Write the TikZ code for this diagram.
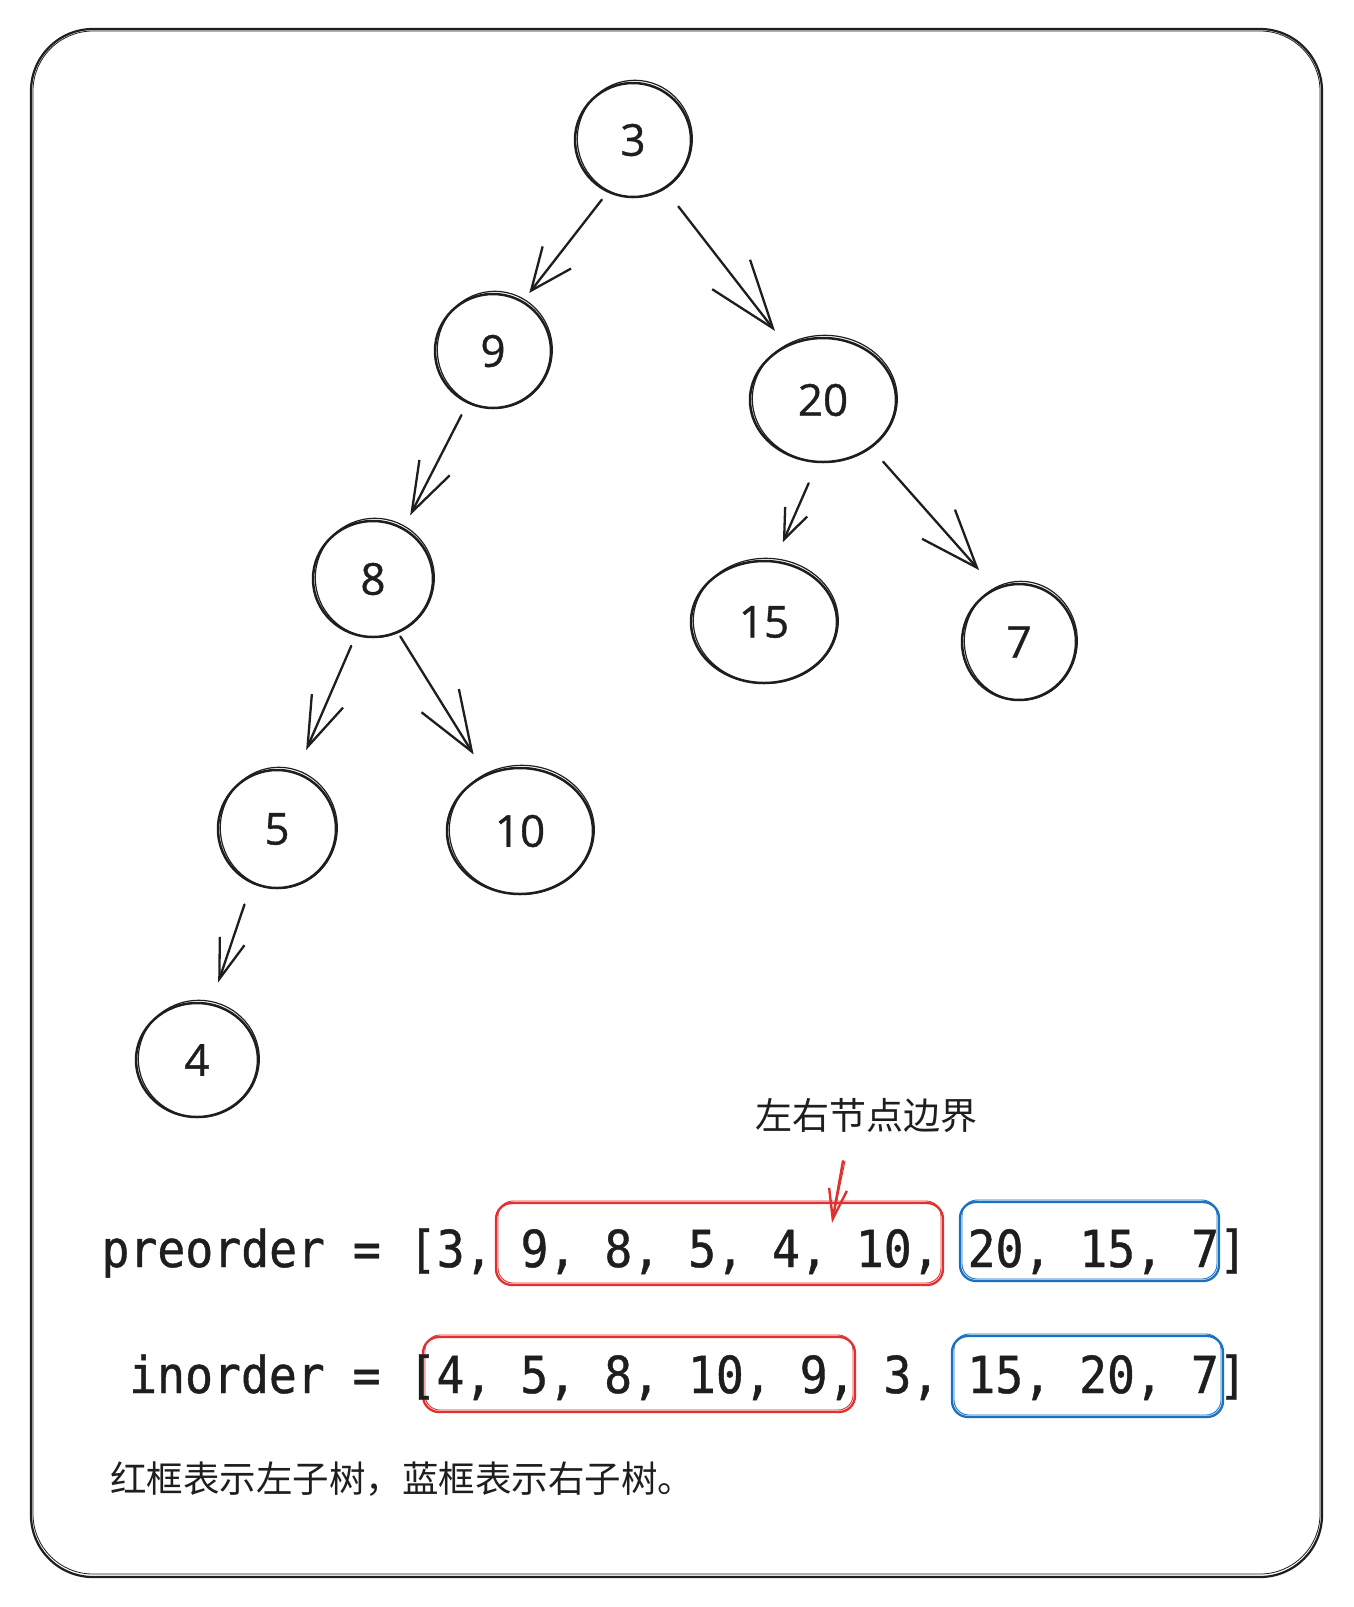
\documentclass[tikz,border=0pt]{standalone}
\usepackage{fontspec}
\usetikzlibrary{arrows.meta,shapes.geometric,calc}
\newfontfamily\cjkf{Noto Sans CJK SC}
\newfontfamily\monof[FakeStretch=0.91,FakeBold=0.8]{DejaVu Sans Mono}
\newfontfamily\handf[FakeBold=0.8]{Open Sans}
\definecolor{ink}{HTML}{1E1E1E}
\definecolor{exred}{HTML}{E03131}
\definecolor{exblue}{HTML}{1971C2}
\newcommand\mytreenode[6]{%
  \node[treenode, minimum width=#4*2, minimum height=#5*2] (#1) at (#2,#3) {#6};
  \draw[ink, line width=1.2pt] (#2+1.8,#3-1.2) ellipse [x radius=#4-0.5, y radius=#5+1.5];
}
\begin{document}
\frenchspacing
\begin{tikzpicture}[x=1pt,y=-1pt,
  treenode/.style={ellipse, draw=ink, line width=2.5pt, inner sep=0pt,
    font=\handf\fontsize{44}{44}\selectfont, text=ink},
  edge/.style={draw=ink, line width=2.3pt, line cap=round, line join=round},
  redbox/.style={rectangle, draw=exred, line width=2.3pt, rounded corners=16pt, inner sep=0pt},
  bluebox/.style={rectangle, draw=exblue, line width=2.3pt, rounded corners=16pt, inner sep=0pt},
  codetext/.style={anchor=base west, inner sep=0pt, text=ink, font=\monof\fontsize{51}{51}\selectfont},
  cjktext/.style={inner sep=0pt, text=ink}
]
\useasboundingbox (0,0) rectangle (1353,1607);
\fill[white] (0,0) rectangle (1353,1607);

% outer frame
\draw[ink, line width=2.2pt, rounded corners=62pt] (31,29) rectangle (1322,1577);
\draw[ink, line width=0.8pt, rounded corners=60pt] (33,31) rectangle (1320,1574);

% tree nodes
\mytreenode{n3}{633}{140}{58}{57}{3}
\mytreenode{n9}{493}{351}{58}{57}{9}
\mytreenode{n20}{823}{400}{73}{62}{20}
\mytreenode{n8}{373}{579}{60}{58}{8}
\mytreenode{n15}{764}{622}{73}{61}{15}
\mytreenode{n7}{1019}{642}{57}{58}{7}
\mytreenode{n5}{277}{829}{59}{59}{5}
\mytreenode{n10}{520}{831}{73}{63}{10}
\mytreenode{n4}{197}{1060}{61}{57}{4}

% edges
\draw[edge, -{Straight Barb[length=42pt,width=36pt]}, shorten <=9pt, shorten >=10pt] (n3.244) -- (n9.59);
\draw[edge, -{Straight Barb[length=68pt,width=48pt]}, shorten <=22pt, shorten >=18pt] (n3.303) -- (n20.124);
\draw[edge, -{Straight Barb[length=50pt,width=34pt]}, shorten <=13pt, shorten >=14pt] (n9.244) -- (n8.59);
\draw[edge, -{Straight Barb[length=30pt,width=24pt]}, shorten <=22pt, shorten >=20pt] (n20.265) -- (n15.80);
\draw[edge, -{Straight Barb[length=58pt,width=44pt]}, shorten <=18pt, shorten >=24pt] (n20.315) -- (n7.114);
\draw[edge, -{Straight Barb[length=50pt,width=34pt]}, shorten <=11pt, shorten >=24pt] (n8.253) -- (n5.71);
\draw[edge, -{Straight Barb[length=60pt,width=44pt]}, shorten <=4pt, shorten >=23pt] (n8.295) -- (n10.121);
\draw[edge, -{Straight Barb[length=40pt,width=26pt]}, shorten <=22pt, shorten >=22pt] (n5.245) -- (n4.76);

% label and pointer
\node[cjktext, font=\cjkf\fontsize{37}{37}\selectfont] (lbl) at (866,1116) {左右节点边界};
\coordinate (ra) at (843,1161);
\coordinate (rb) at (832,1223);
\draw[draw=exred, line width=2.4pt, line cap=round, -{Straight Barb[length=30pt,width=18pt]}] (ra) -- (rb);
\draw[draw=exred, line width=1pt, line cap=round] ($(ra)+(2,0)$) -- ($(rb)+(1,-4)$);

% boxes
\node[redbox, minimum width=447pt, minimum height=82pt] (rpre) at (719.5,1244) {};
\draw[exred, line width=0.9pt, rounded corners=15pt] (498,1201) rectangle (941,1283);
\node[bluebox, minimum width=259pt, minimum height=79pt] (bpre) at (1089.5,1241.5) {};
\draw[exblue, line width=0.9pt, rounded corners=15pt] (962,1200) rectangle (1217,1279);
\node[redbox, minimum width=432pt, minimum height=75pt] (rin) at (639,1374.5) {};
\draw[exred, line width=0.9pt, rounded corners=15pt] (425,1335) rectangle (853,1410);
\node[bluebox, minimum width=271pt, minimum height=81pt] (bin) at (1087.5,1376.5) {};
\draw[exblue, line width=0.9pt, rounded corners=15pt] (954,1334) rectangle (1221,1415);

% code lines
\node[codetext] (pre) at (101.3,1267) {preorder = [3, 9, 8, 5, 4, 10, 20, 15, 7]};
\node[codetext] (ino) at (129,1393) {inorder = [4, 5, 8, 10, 9, 3, 15, 20, 7]};

% legend
\node[cjktext, anchor=west, font=\cjkf\fontsize{36.5}{36.5}\selectfont] (legend) at (110,1479) {红框表示左子树，蓝框表示右子树。};
\end{tikzpicture}
\end{document}
